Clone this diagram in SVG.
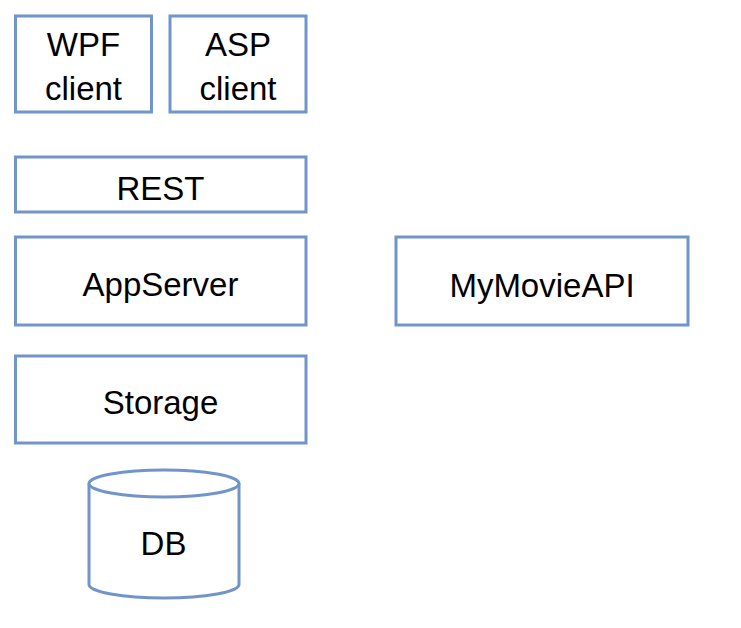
<svg xmlns="http://www.w3.org/2000/svg" width="741" height="628" viewBox="0 0 741 628">
<style>
.box{fill:#ffffff;stroke:#7194c9;stroke-width:3}
.lbl{font-family:"Liberation Sans",Arial,sans-serif;font-size:33px;fill:#000000;text-anchor:middle}
</style>
<rect width="741" height="628" fill="#ffffff"/>
<g id="wpf-client">
<rect class="box" x="15.5" y="16" width="136" height="96"/>
<text class="lbl" x="83.5" y="56">WPF</text>
<text class="lbl" x="83.5" y="99.5">client</text>
</g>
<g id="asp-client">
<rect class="box" x="170" y="16" width="136" height="96"/>
<text class="lbl" x="238" y="56">ASP</text>
<text class="lbl" x="238" y="99.5">client</text>
</g>
<g id="rest">
<rect class="box" x="15.5" y="157" width="290.5" height="55"/>
<text class="lbl" x="160.5" y="200">REST</text>
</g>
<g id="appserver">
<rect class="box" x="15.5" y="237" width="290.5" height="88"/>
<text class="lbl" x="160.5" y="296">AppServer</text>
</g>
<g id="storage">
<rect class="box" x="15.5" y="356" width="290.5" height="87"/>
<text class="lbl" x="160.5" y="414">Storage</text>
</g>
<g id="mymovieapi">
<rect class="box" x="396" y="237" width="292" height="88"/>
<text class="lbl" x="542" y="296.5">MyMovieAPI</text>
</g>
<g id="db">
<path class="box" d="M89,483.5 L89,584.5 A75,13.5 0 0 0 239,584.5 L239,483.5"/>
<ellipse class="box" cx="164" cy="483.5" rx="75" ry="13.5"/>
<text class="lbl" x="163.5" y="555">DB</text>
</g>
<g id="connectors"></g>
</svg>
